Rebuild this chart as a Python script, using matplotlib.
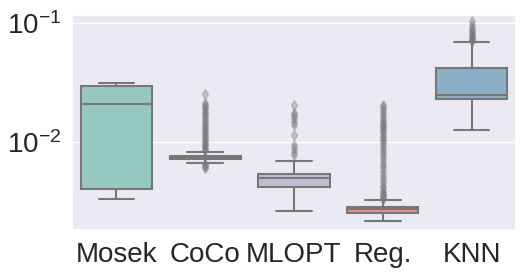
import matplotlib
matplotlib.use("Agg")
import matplotlib.pyplot as plt
from matplotlib.ticker import NullLocator, NullFormatter
import seaborn as sns

# categories and box summary values
methods = ["Mosek", "CoCo", "MLOPT", "Reg.", "KNN"]
whislo = [0.00332, 0.00670, 0.00265, 0.00218, 0.01267]
q1 = [0.00403, 0.00720, 0.00419, 0.00252, 0.0230]
med = [0.0210, 0.00740, 0.00495, 0.00275, 0.0250]
q3 = [0.0297, 0.00763, 0.00535, 0.00286, 0.0419]
whishi = [0.0313, 0.00829, 0.00692, 0.00326, 0.0692]

mosek_fliers = []
coco_fliers = [0.0060, 0.0062, 0.0064, 0.0066,
               0.0085, 0.0088, 0.0091, 0.0094, 0.0097, 0.0100, 0.0104,
               0.0108, 0.0112, 0.0116, 0.0121, 0.0126, 0.0131, 0.0137,
               0.0143, 0.0150, 0.0157, 0.0165, 0.0172, 0.0180, 0.0188,
               0.0197, 0.0206, 0.0214, 0.0252]
mlopt_fliers = [0.0078, 0.0083, 0.00885, 0.0094, 0.0115, 0.0139, 0.0148,
                0.0158, 0.0169, 0.0174, 0.0204]
reg_fliers = [0.0033, 0.0034, 0.0035, 0.0036, 0.0037, 0.0039, 0.0041,
              0.0043, 0.0046, 0.0049, 0.0052, 0.0056, 0.0060, 0.0064,
              0.0068, 0.0073, 0.0078, 0.0083, 0.0088, 0.0093, 0.0098,
              0.0103, 0.0108, 0.0113, 0.0118, 0.0123, 0.0128, 0.0133,
              0.0138, 0.0143, 0.0150, 0.0157, 0.0166, 0.0175, 0.0185,
              0.0195, 0.0204]
knn_fliers = [0.071, 0.072, 0.074, 0.076, 0.078, 0.081, 0.084, 0.087,
              0.091, 0.097, 0.104]
fliers = [mosek_fliers, coco_fliers, mlopt_fliers, reg_fliers, knn_fliers]

sns.set_theme(style="darkgrid")
plt.rcParams['font.family'] = ['Liberation Sans', 'DejaVu Sans']
plt.rcParams['mathtext.fontset'] = 'custom'
plt.rcParams['mathtext.rm'] = 'Liberation Sans'
plt.rcParams['mathtext.default'] = 'regular'

colors = [sns.desaturate(c, 0.75) for c in sns.color_palette("Set3", 5)]
line_gray = "#777777"

stats = []
for i, name in enumerate(methods):
    stats.append(dict(label=name, whislo=whislo[i], q1=q1[i], med=med[i],
                      q3=q3[i], whishi=whishi[i], fliers=fliers[i]))

fig = plt.figure(figsize=(5.24, 2.74), dpi=100)
ax = fig.add_axes([0.1374, 0.1606, 0.8473, 0.7847])

bp = ax.bxp(stats, positions=range(len(methods)), widths=0.8,
            patch_artist=True,
            boxprops=dict(edgecolor=line_gray, linewidth=1.5),
            medianprops=dict(color=line_gray, linewidth=1.5),
            whiskerprops=dict(color=line_gray, linewidth=1.5),
            capprops=dict(color=line_gray, linewidth=1.5),
            flierprops=dict(marker="d", markerfacecolor=line_gray,
                            markeredgecolor=line_gray, markersize=5,
                            alpha=0.35))
for patch, c in zip(bp["boxes"], colors):
    patch.set_facecolor(c)

ax.set_yscale("log")
ax.set_ylim(0.001824, 0.1167)
ax.set_xlim(-0.5, 4.5)
ax.xaxis.grid(False)
ax.yaxis.set_minor_locator(NullLocator())
ax.yaxis.set_minor_formatter(NullFormatter())
ax.tick_params(axis="x", labelsize=20, length=0, pad=9)
ax.tick_params(axis="y", labelsize=20, length=0, pad=8)

fig.savefig("out.png", dpi=100)
